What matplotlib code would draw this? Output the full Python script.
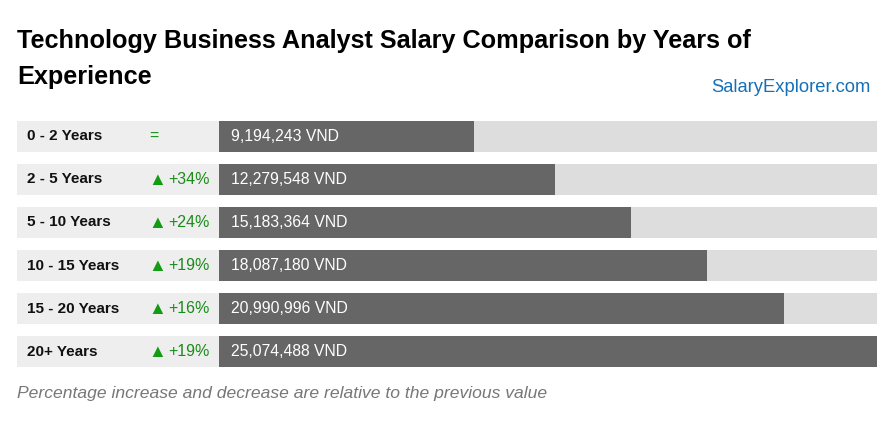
import matplotlib.pyplot as plt

groups = ['0 - 2 Years', '2 - 5 Years', '5 - 10 Years', '10 - 15 Years', '15 - 20 Years', '20+ Years']
salaries = [9194243, 12279548, 15183364, 18087180, 20990996, 25074488]
changes = ['=', '+34%', '+24%', '+19%', '+16%', '+19%']

title = 'Technology Business Analyst Salary Comparison by Years of\nExperience'
note = 'Percentage increase and decrease are relative to the previous value'

W, H = 895, 422
plt.rcParams['font.family'] = ['Liberation Sans', 'DejaVu Sans']

fig = plt.figure(figsize=(W / 100, H / 100), dpi=100)

def box(x0, x1, y0, y1):
	# pixel box (from top-left) -> figure fraction rect
	return [x0 / W, 1 - y1 / H, (x1 - x0) / W, (y1 - y0) / H]

def ftext(x, y, s, **kw):
	fig.text(x / W, 1 - y / H, s, **kw)

line1, line2 = title.split('\n')
ftext(17, 48, line1, fontsize=18.2, fontweight='bold', va='baseline')
ftext(17, 84, line2, fontsize=18.2, fontweight='bold', va='baseline')
ftext(871, 92, 'SalaryExplorer.com', fontsize=13.2, color='#1570b8', ha='right', va='baseline')
ftext(17, 398, note, fontsize=12.6, style='italic', color='#777777', va='baseline')

n = len(groups)
ylim = (n - 1 + 0.36, -0.36)
bh = 31 / 43
ys = list(range(n))

# label column
lax = fig.add_axes(box(17, 219, 121, 367))
lax.set_xlim(17, 219)
lax.set_ylim(*ylim)
lax.barh(ys, [202] * n, left=17, height=bh, color='#eeeeee')
for y, g, c in zip(ys, groups, changes):
	lax.text(27, y, g, fontsize=11, fontweight='bold', va='center', color='#111111')
	if c == '=':
		lax.text(149, y, '=', fontsize=11.5, va='center', color='#1a8c1a')
	else:
		lax.text(148, y + 0.03, '\u25b2', fontsize=13, va='center', color='#129c12')
		lax.text(168, y, c, fontsize=11.5, va='center', color='#1a8c1a')
lax.axis('off')

# bar column
top = max(salaries)
pad = top * 13 / 659
bax = fig.add_axes(box(219, 877, 121, 367))
bax.set_xlim(-pad, top * (877 - 232) / 659)
bax.set_ylim(*ylim)
bax.barh(ys, [bax.get_xlim()[1] + pad] * n, left=-pad, height=bh, color='#dddddd')
bax.barh(ys, [v + pad for v in salaries], left=-pad, height=bh, color='#666666')
for y, v in zip(ys, salaries):
	bax.text(-pad + top * 12 / 659, y, f'{v:,} VND', fontsize=11.3, va='center', color='white')
bax.axis('off')

fig.savefig('out.png', dpi=100)
